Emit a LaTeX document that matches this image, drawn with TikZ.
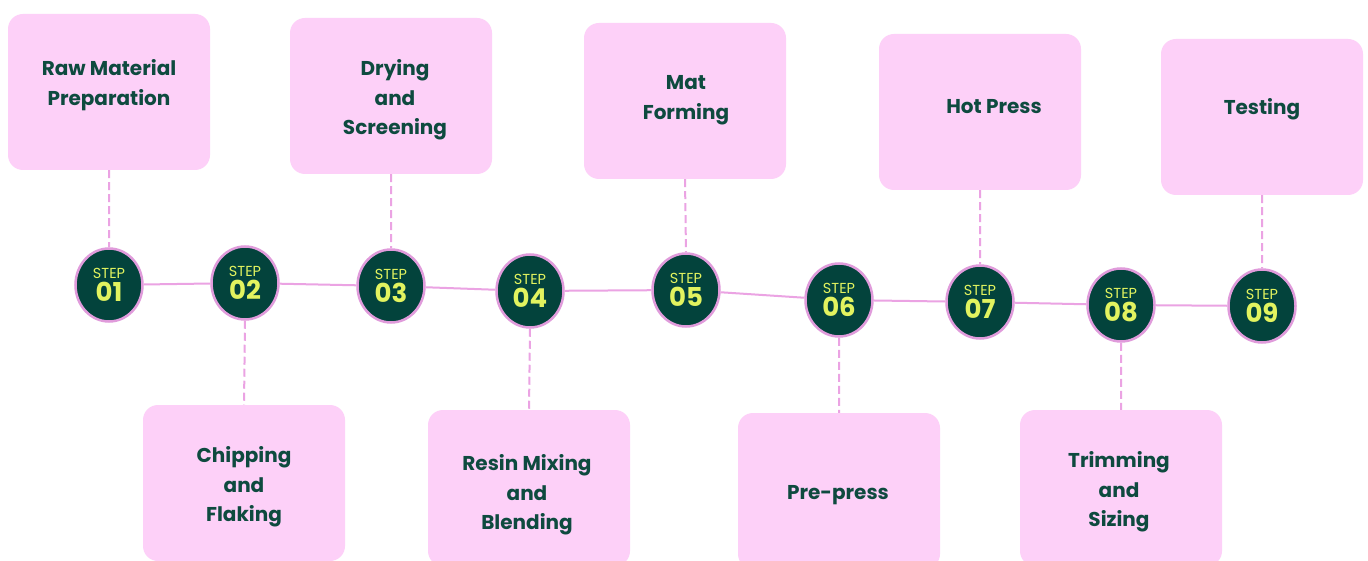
\documentclass[tikz,border=0pt]{standalone}
\usepackage{fontspec}
\setmainfont{Poppins}
\usetikzlibrary{shapes.geometric}
\definecolor{boxpink}{HTML}{FDD0F8}
\definecolor{linepink}{HTML}{EBA3E3}
\definecolor{rimpink}{HTML}{E09BDB}
\definecolor{darkgreen}{HTML}{03433C}
\definecolor{textgreen}{HTML}{0E4A3F}
\definecolor{stepyellow}{HTML}{E2F35F}
\newcommand\stepno[1]{{\fontsize{14.5}{14.5}\selectfont STEP}\\{\fontsize{26}{26}\selectfont\bfseries #1}}
\tikzset{
  stepbox/.style={fill=boxpink, rounded corners=15pt, minimum width=202pt, minimum height=156pt, inner sep=0pt},
  boxtext/.style={text=textgreen, align=center, inner sep=0pt, font=\fontsize{20}{29.5}\selectfont\bfseries},
  stepdot/.style={ellipse, fill=darkgreen, draw=rimpink, line width=2.5pt, minimum width=67pt, minimum height=73pt,
    inner sep=0pt, text=stepyellow, align=center, font=\fontsize{14.5}{23}\selectfont},
  timeline/.style={draw=linepink, line width=2pt},
  dashlink/.style={draw=linepink, line width=2pt, dash pattern=on 8pt off 4pt}
}
\begin{document}
\begin{tikzpicture}[x=1pt,y=-1pt]
  \useasboundingbox[fill=white] (0,0) rectangle (1368,561);

  % boxes above and below the line
  \node[stepbox] (b1) at ( 109, 92) {};
  \node[stepbox] (b2) at ( 244,483) {};
  \node[stepbox] (b3) at ( 391, 96) {};
  \node[stepbox] (b4) at ( 529,488) {};
  \node[stepbox] (b5) at ( 685,101) {};
  \node[stepbox] (b6) at ( 839,491) {};
  \node[stepbox] (b7) at ( 980,112) {};
  \node[stepbox] (b8) at (1121,488) {};
  \node[stepbox] (b9) at (1262,117) {};

  \node[boxtext] (t1) at ( 109, 85) {Raw Material\\Preparation};
  \node[boxtext] (t2) at ( 244,487) {Chipping\\and\\Flaking};
  \node[boxtext] (t3) at ( 395,100) {Drying\\and\\Screening};
  \node[boxtext] (t4) at ( 527,495) {Resin Mixing\\and\\Blending};
  \node[boxtext] (t5) at ( 686,100) {Mat\\Forming};
  \node[boxtext] (t6) at ( 838,495) {Pre-press};
  \node[boxtext] (t7) at ( 994,107) {Hot Press};
  \node[boxtext] (t8) at (1119,492) {Trimming\\and\\Sizing};
  \node[boxtext] (t9) at (1262,109) {Testing};

  % step circles
  \node[stepdot] (s1) at ( 109,285) {\stepno{01}};
  \node[stepdot] (s2) at ( 245,283) {\stepno{02}};
  \node[stepdot] (s3) at ( 391,286) {\stepno{03}};
  \node[stepdot] (s4) at ( 530,291) {\stepno{04}};
  \node[stepdot] (s5) at ( 686,290) {\stepno{05}};
  \node[stepdot] (s6) at ( 839,300) {\stepno{06}};
  \node[stepdot] (s7) at ( 980,302) {\stepno{07}};
  \node[stepdot] (s8) at (1121,305) {\stepno{08}};
  \node[stepdot] (s9) at (1262,306) {\stepno{09}};

  \draw[timeline] (s1) -- (s2)
    (s2) -- (s3)
    (s3) -- (s4)
    (s4) -- (s5)
    (s5) -- (s6)
    (s6) -- (s7)
    (s7) -- (s8)
    (s8) -- (s9);

  \draw[dashlink] (b1.south) -- (s1.north)
    (b3.south) -- (s3.north)
    (b5.south) -- (s5.north)
    (b7.south) -- (s7.north)
    (b9.south) -- (s9.north);
  \draw[dashlink] (s2.south) -- (b2.north)
    (s4.south) -- (b4.north)
    (s6.south) -- (b6.north)
    (s8.south) -- (b8.north);
\end{tikzpicture}
\end{document}
